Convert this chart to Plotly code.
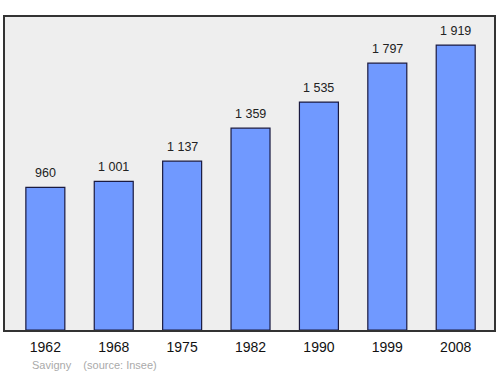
import plotly.graph_objects as go

years = ["1962", "1968", "1975", "1982", "1990", "1999", "2008"]
population = [960, 1001, 1137, 1359, 1535, 1797, 1919]
labels = ["960", "1 001", "1 137", "1 359", "1 535", "1 797", "1 919"]

FONT = "Liberation Sans, Arial, sans-serif"

fig = go.Figure()
fig.add_trace(go.Bar(
    x=list(range(len(years))), y=population, width=0.57,
    marker=dict(color="#7099ff", line=dict(color="#1a1a40", width=1.2)),
    hoverinfo="skip",
))
for i, (v, t) in enumerate(zip(population, labels)):
    fig.add_annotation(x=i, y=v, text=t, showarrow=False, yanchor="bottom",
                       yshift=5, font=dict(family=FONT, size=12.5, color="#222"))

fig.add_annotation(xref="paper", yref="paper", x=0.051, y=-0.112, xanchor="left", yanchor="middle",
                   text="Savigny&nbsp;&nbsp;&nbsp;&nbsp;(source: Insee)", showarrow=False,
                   font=dict(family=FONT, size=11, color="#aaaaaa"))

fig.update_layout(
    width=500, height=374,
    margin=dict(l=5, r=6, t=17, b=44),
    paper_bgcolor="white", plot_bgcolor="#eeeeee",
    showlegend=False,
    xaxis=dict(range=[-0.59, 6.56], showline=True, mirror=True,
               tickmode="array", tickvals=list(range(len(years))), ticktext=years,
               linecolor="#333", linewidth=1.5, ticks="", showgrid=False, zeroline=False,
               ticklabelstandoff=3,
               tickfont=dict(family=FONT, size=14, color="#111")),
    yaxis=dict(range=[0, 2108], showline=True, mirror=True, linecolor="#333", linewidth=1.5,
               showticklabels=False, showgrid=False, zeroline=False, ticks=""),
)
fig.write_html("out.html")
